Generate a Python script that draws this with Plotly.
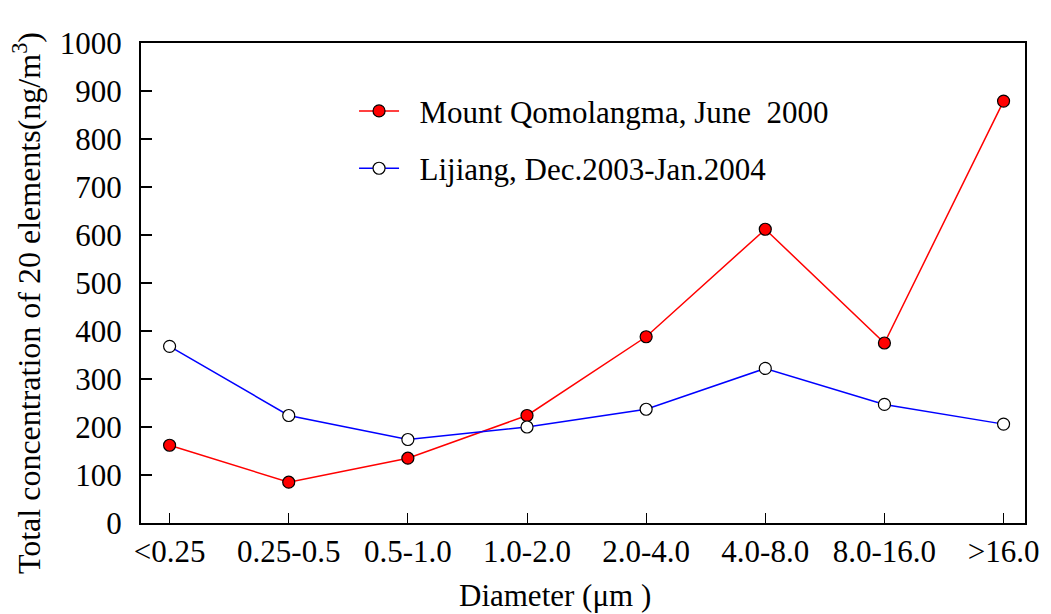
import plotly.graph_objects as go

categories = ["<0.25", "0.25-0.5", "0.5-1.0", "1.0-2.0", "2.0-4.0", "4.0-8.0", "8.0-16.0", ">16.0"]
qomolangma = [162, 85, 135, 224, 388, 612, 375, 879]
lijiang = [368, 224, 174, 200, 237, 322, 247, 206]
yticks = [0, 100, 200, 300, 400, 500, 600, 700, 800, 900, 1000]

x_idx = list(range(len(categories)))
FONT = "Times New Roman, Liberation Serif, DejaVu Serif, serif"
NB = "\u00a0"

fig = go.Figure()
fig.add_trace(go.Scatter(
    x=x_idx, y=qomolangma, mode="lines+markers",
    name=NB * 2 + "Mount Qomolangma, June" + NB + " 2000", legendgroup="a",
    line=dict(color="#FF0000", width=1.5),
    marker=dict(symbol="circle", size=12, color="#FF0000", line=dict(color="black", width=1.2)),
))
fig.add_trace(go.Scatter(
    x=x_idx, y=lijiang, mode="lines+markers",
    name=NB * 2 + "Lijiang, Dec.2003-Jan.2004", legendgroup="b",
    line=dict(color="#0000FF", width=1.5),
    marker=dict(symbol="circle", size=12, color="white", line=dict(color="black", width=1.2)),
))

# page body has an 8px margin: compensate so the plot area sits where the reference's does
fig.update_layout(
    width=1043, height=606,
    margin=dict(l=133, r=19, t=35, b=91),
    paper_bgcolor="white", plot_bgcolor="white",
    font=dict(family=FONT, size=28, color="black"),
    showlegend=True,
    legend=dict(
        x=0.241, y=0.914, xanchor="left", yanchor="top",
        bgcolor="rgba(0,0,0,0)", font=dict(family=FONT, size=31),
        traceorder="grouped", tracegroupgap=14, itemwidth=40,
    ),
    xaxis=dict(
        range=[-0.24, 7.18], tickmode="array", tickvals=x_idx, ticktext=categories,
        ticks="inside", ticklen=10, tickwidth=1, tickcolor="black",
        showline=True, linecolor="black", linewidth=2, mirror=True,
        showgrid=False, zeroline=False,
        tickfont=dict(family=FONT, size=31),
    ),
    yaxis=dict(
        range=[0, 1000], tickmode="array", tickvals=yticks,
        ticks="inside", ticklen=11, tickwidth=2, tickcolor="black",
        showline=True, linecolor="black", linewidth=2, mirror=True,
        showgrid=False, zeroline=False, ticklabelstandoff=11,
        tickfont=dict(family=FONT, size=31),
    ),
    annotations=[
        dict(text="Diameter (μm )", xref="paper", yref="paper", x=0.468, y=-0.152,
             xanchor="center", yanchor="middle", showarrow=False,
             font=dict(family=FONT, size=31)),
        dict(text="Total concentration of 20 elements(ng/m<sup>3</sup>)", xref="paper", yref="paper",
             x=-0.129, y=0.458, xanchor="center", yanchor="middle", textangle=-90,
             showarrow=False, font=dict(family=FONT, size=32)),
    ],
)

fig.write_html("out.html")
